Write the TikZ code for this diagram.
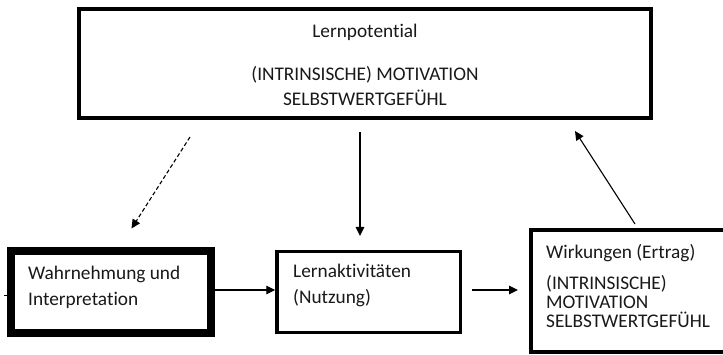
\documentclass[tikz,border=0pt]{standalone}
\usepackage{fontspec}
\setmainfont[RawFeature={-liga;-dlig}]{Carlito}
\usetikzlibrary{arrows.meta}
% keeps "t" and "i" as separate glyphs
\newcommand{\tiSep}{t\kern0pt i}

\begin{document}
\begin{tikzpicture}[
  x=1pt, y=-1pt,
  box/.style={draw=black, rectangle, inner sep=0pt, fill=white},
  txt/.style={anchor=base west, inner sep=0pt, text=black!90,
              font=\fontsize{19.3}{23}\selectfont},
  ctxt/.style={txt, anchor=base},
  conn/.style={line width=1.1pt, -{Triangle[length=9pt,width=8.5pt]}},
]
\useasboundingbox (0,0) rectangle (723,355);
\clip (0,0) rectangle (723,355);

% boxes
\node[box, line width=4pt, minimum width=572pt, minimum height=109pt]
  (pot) at (365,63.5) {};
\node[box, line width=8pt, minimum width=200pt, minimum height=82pt]
  (wahr) at (111,292) {};
\node[box, line width=3.5pt, minimum width=183.5pt, minimum height=81pt]
  (akt) at (368.75,292) {};
\node[box, line width=3.5pt, minimum width=210pt, minimum height=122pt]
  (wirk) at (636,291) {};

% texts of the upper box
\node[ctxt] (potA) at (365,38)    {Lernpoten\tiSep al};
\node[ctxt] (potB) at (365,80.5)  {(INTRINSISCHE) MOTIVATION};
\node[ctxt] (potC) at (365,105.5) {SELBSTWERTGEFÜHL};

% texts of the lower boxes
\node[txt] (wahrA) at (28,279.5) {Wahrnehmung und};
\node[txt] (wahrB) at (28,306)   {Interpretation};

\node[txt] (aktA) at (293,278)   {Lernak\tiSep vitäten};
\node[txt] (aktB) at (293,303.5) {(Nutzung)};

\node[txt] (wirkA) at (546,258.3) {Wirkungen (Ertrag)};
\node[txt] (wirkB) at (546,289.5) {(INTRINSISCHE)};
\node[txt] (wirkC) at (546,308.5) {MOTIVATION};
\node[txt] (wirkD) at (546,327.5) {SELBSTWERTGEFÜHL};

% free ends of the connectors
\coordinate (dashS) at (190,137);
\coordinate (dashE) at (131.5,228.5);
\coordinate (downS) at (360,132);
\coordinate (downE) at (360,236);
\coordinate (midS)  at (472,290);
\coordinate (midE)  at (518,290);
\coordinate (upS)   at (635,224);
\coordinate (upE)   at (575,131);
\coordinate (stub)  at (4,296);

% connectors
\draw[conn, dashed, dash pattern=on 4pt off 2.5pt] (dashS) -- (dashE);
\draw[conn] (downS) -- (downE);
\draw[conn] (wahr.east |- 0,290) -- (akt.west |- 0,290);
\draw[conn] (midS) -- (midE);
\draw[conn] (upS) -- (upE);
\draw[line width=1pt] (stub) -- (wahr.west |- stub);
\end{tikzpicture}
\end{document}
